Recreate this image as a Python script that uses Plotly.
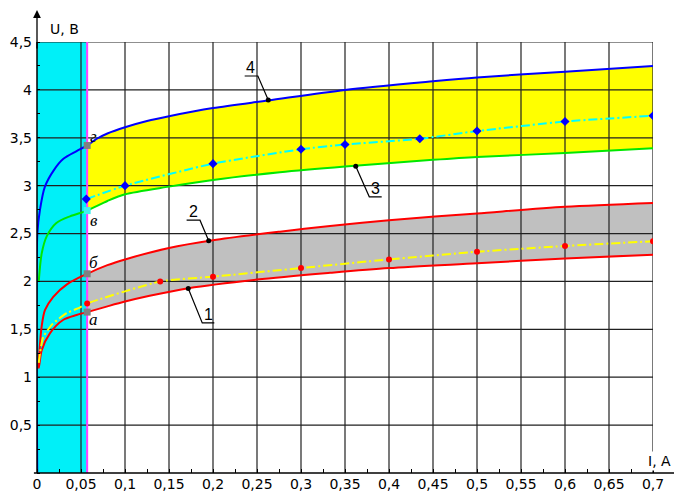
import plotly.graph_objects as go

# ---------------- data ----------------
# Curve 4 (blue, solid)
I4 = [0.0003, 0.0004, 0.0034, 0.009, 0.019, 0.030, 0.045, 0.057, 0.068, 0.08, 0.10, 0.125, 0.15, 0.20, 0.263, 0.35, 0.45, 0.50, 0.60, 0.70]
U4 = [0.00, 2.50, 2.75, 2.99, 3.16, 3.28, 3.36, 3.42, 3.49, 3.545, 3.61, 3.675, 3.725, 3.81, 3.89, 4.00, 4.09, 4.13, 4.19, 4.25]
# Curve 3 (green, solid)
I3 = [0.002, 0.0053, 0.011, 0.022, 0.0375, 0.057, 0.08, 0.10, 0.15, 0.20, 0.276, 0.35, 0.45, 0.50, 0.60, 0.70]
U3 = [2.00, 2.29, 2.47, 2.61, 2.68, 2.74, 2.84, 2.91, 2.99, 3.06, 3.14, 3.20, 3.27, 3.30, 3.34, 3.39]
# Curve 2 (red, upper)
I2 = [0.0015, 0.0026, 0.0053, 0.009, 0.0185, 0.034, 0.057, 0.08, 0.10, 0.15, 0.20, 0.276, 0.333, 0.40, 0.50, 0.60, 0.70]
U2 = [1.10, 1.25, 1.53, 1.70, 1.84, 1.97, 2.08, 2.17, 2.23, 2.35, 2.43, 2.52, 2.58, 2.64, 2.71, 2.78, 2.82]
# Curve 1 (red, lower)
I1 = [0.0015, 0.0026, 0.0053, 0.0148, 0.030, 0.045, 0.057, 0.08, 0.10, 0.128, 0.172, 0.25, 0.333, 0.40, 0.50, 0.60, 0.70]
U1 = [1.09, 1.13, 1.28, 1.46, 1.60, 1.65, 1.68, 1.74, 1.79, 1.85, 1.93, 2.02, 2.09, 2.14, 2.19, 2.24, 2.28]
# Measured points between curves 3 and 4 (blue diamonds, cyan dash-dot)
Ic = [0.056, 0.10, 0.20, 0.30, 0.35, 0.435, 0.50, 0.60, 0.70]
Uc = [2.86, 3.00, 3.23, 3.38, 3.43, 3.49, 3.57, 3.67, 3.73]
# Measured points between curves 1 and 2 (red dots, yellow dash-dot)
Iy = [0.002, 0.0034, 0.007, 0.018, 0.034, 0.049, 0.057, 0.14, 0.20, 0.30, 0.40, 0.50, 0.60, 0.70]
Uy = [1.15, 1.25, 1.42, 1.56, 1.67, 1.73, 1.77, 2.00, 2.05, 2.14, 2.23, 2.31, 2.37, 2.42]
Iy_pts = [0.057, 0.14, 0.20, 0.30, 0.40, 0.50, 0.60, 0.70]
Uy_pts = [1.77, 2.00, 2.05, 2.14, 2.23, 2.31, 2.37, 2.42]

I_LIMIT = 0.057          # boundary of the cyan zone
X_MAX, Y_MAX = 0.70, 4.5

x_tickvals = [0, 0.05, 0.1, 0.15, 0.2, 0.25, 0.3, 0.35, 0.4, 0.45, 0.5, 0.55, 0.6, 0.65, 0.7]
x_ticktext = ["0", "0,05", "0,1", "0,15", "0,2", "0,25", "0,3", "0,35", "0,4", "0,45",
              "0,5", "0,55", "0,6", "0,65", "0,7"]
y_tickvals = [0.5, 1, 1.5, 2, 2.5, 3, 3.5, 4, 4.5]
y_ticktext = ["0,5", "1", "1,5", "2", "2,5", "3", "3,5", "4", "4,5"]

FONT = "DejaVu Sans, Verdana, sans-serif"
LFONT = "Liberation Sans, Arial, sans-serif"
SERIF = "Liberation Serif, Times New Roman, serif"


def band(ia, ua, ib, ub):
    top = [(i, u) for i, u in zip(ia, ua) if i >= I_LIMIT]
    bot = [(i, u) for i, u in zip(ib, ub) if i >= I_LIMIT]
    pts = top + bot[::-1]
    return [p[0] for p in pts], [p[1] for p in pts]


def at_limit(ii, uu):
    return uu[ii.index(I_LIMIT)]


fig = go.Figure()

# filled bands
bx, by = band(I4, U4, I3, U3)
fig.add_trace(go.Scatter(x=bx, y=by, fill="toself", fillcolor="#ffff00",
                         line=dict(width=0), mode="lines", hoverinfo="skip"))
bx, by = band(I2, U2, I1, U1)
fig.add_trace(go.Scatter(x=bx, y=by, fill="toself", fillcolor="#c0c0c0",
                         line=dict(width=0), mode="lines", hoverinfo="skip"))

# grid drawn over fills
gx, gy = [], []
for xv in x_tickvals[1:]:
    gx += [xv, xv, None]
    gy += [0, Y_MAX, None]
for yv in y_tickvals:
    gx += [0, X_MAX, None]
    gy += [yv, yv, None]
fig.add_trace(go.Scatter(x=gx, y=gy, mode="lines", line=dict(color="#202020", width=1.2),
                         hoverinfo="skip"))

# magenta boundary line
fig.add_trace(go.Scatter(x=[I_LIMIT, I_LIMIT], y=[0, Y_MAX], mode="lines",
                         line=dict(color="#ff40ff", width=2), hoverinfo="skip"))

# curves
sp = dict(shape="spline", smoothing=0.8)
fig.add_trace(go.Scatter(x=I3, y=U3, mode="lines", line=dict(color="#00e800", width=2, **sp)))
fig.add_trace(go.Scatter(x=I4, y=U4, mode="lines", line=dict(color="#0000ff", width=2, **sp)))
fig.add_trace(go.Scatter(x=I2, y=U2, mode="lines", line=dict(color="#ff0000", width=2, **sp)))
fig.add_trace(go.Scatter(x=I1, y=U1, mode="lines", line=dict(color="#ff0000", width=2, **sp)))

# dash-dot measured lines
fig.add_trace(go.Scatter(x=Ic, y=Uc, mode="lines+markers",
                         line=dict(color="#00ffff", width=2, dash="9px,3px,2px,3px", shape="spline", smoothing=0.5),
                         marker=dict(symbol="diamond", size=7, color="#0000ff")))
fig.add_trace(go.Scatter(x=Iy, y=Uy, mode="lines",
                         line=dict(color="#ffff00", width=2, dash="9px,3px,2px,3px", shape="spline", smoothing=0.5)))
fig.add_trace(go.Scatter(x=Iy_pts, y=Uy_pts, mode="markers",
                         marker=dict(symbol="circle", size=6, color="#ff0000")))

# points a, б, в, г at the boundary
fig.add_trace(go.Scatter(x=[I_LIMIT] * 3, y=[at_limit(I4, U4), at_limit(I2, U2), at_limit(I1, U1)],
                         mode="markers", marker=dict(symbol="square", size=7, color="#808080")))
fig.add_trace(go.Scatter(x=[I_LIMIT], y=[at_limit(I3, U3)],
                         mode="markers", marker=dict(symbol="square", size=7, color="#40f0f0")))

# callout leaders
callouts = [
    # label, anchor, leader end, underline end, text pos
    ("4", (0.2628, 3.894), (0.251, 4.145), (0.236, 4.145), (0.243, 4.235)),
    ("3", (0.3622, 3.203), (0.3776, 2.884), (0.3917, 2.884), (0.385, 2.975)),
    ("2", (0.1951, 2.424), (0.1852, 2.640), (0.1700, 2.640), (0.178, 2.73)),
    ("1", (0.1719, 1.927), (0.1878, 1.567), (0.2015, 1.567), (0.1949, 1.66)),
]
lx, ly, dx, dy = [], [], [], []
for lab, a, l, u, t in callouts:
    lx += [a[0], l[0], u[0], None]
    ly += [a[1], l[1], u[1], None]
    dx.append(a[0])
    dy.append(a[1])
fig.add_trace(go.Scatter(x=lx, y=ly, mode="lines", line=dict(color="black", width=1.2), hoverinfo="skip"))
fig.add_trace(go.Scatter(x=dx, y=dy, mode="markers", marker=dict(color="black", size=5)))

annotations = []
for lab, a, l, u, t in callouts:
    annotations.append(dict(x=t[0], y=t[1], xref="x", yref="y", text=lab, showarrow=False,
                            font=dict(family=LFONT, size=16, color="black")))
for lab, yy in [("г", 3.517), ("в", 2.638), ("б", 2.20), ("а", 1.606)]:
    annotations.append(dict(x=0.0645, y=yy, xref="x", yref="y", text="<i>%s</i>" % lab, showarrow=False,
                            font=dict(family=SERIF, size=17, color="black")))
annotations.append(dict(x=0.018, y=1.03, xref="paper", yref="paper", xanchor="left", yanchor="middle",
                        text="U, В", showarrow=False, font=dict(family=FONT, size=14, color="black")))
annotations.append(dict(x=1.011, y=0.004, xref="paper", yref="paper", xanchor="center", yanchor="bottom",
                        text="I, А", showarrow=False, bgcolor="white",
                        font=dict(family=FONT, size=14, color="black")))
# y-axis arrow
annotations.append(dict(x=0, y=1.074, xref="x", yref="paper", text="", showarrow=True,
                        ax=0, ay=40, arrowhead=2, arrowsize=1.2, arrowwidth=1.3, arrowcolor="black"))

shapes = [
    dict(type="rect", xref="x", yref="y", x0=0, x1=I_LIMIT, y0=0, y1=Y_MAX,
         fillcolor="#00f0f8", line=dict(width=0), layer="below"),
    dict(type="line", xref="paper", yref="paper", x0=-0.005, x1=1.04, y0=0, y1=0,
         line=dict(color="black", width=1.5)),
    dict(type="line", xref="paper", yref="paper", x0=0, x1=0, y0=0, y1=1.0,
         line=dict(color="black", width=1.5)),
]

fig.update_layout(
    width=674, height=491, autosize=False,
    margin=dict(l=37, r=21, t=42, b=18, pad=0, autoexpand=False),
    paper_bgcolor="white", plot_bgcolor="white",
    showlegend=False,
    font=dict(family=FONT, size=14, color="black"),
    shapes=shapes, annotations=annotations,
    xaxis=dict(range=[0, X_MAX], tickmode="array", tickvals=x_tickvals, ticktext=x_ticktext,
               showgrid=False, zeroline=False, showline=False, ticks="", ticklabelstandoff=1,
               automargin=False,
               tickfont=dict(family=FONT, size=14, color="black"),
               minor=dict(ticks="inside", ticklen=4, tickcolor="black", dtick=0.025, tick0=0, showgrid=False)),
    yaxis=dict(range=[0, Y_MAX], tickmode="array", tickvals=y_tickvals, ticktext=y_ticktext,
               showgrid=False, zeroline=False, showline=False, ticks="", ticklabelstandoff=4,
               automargin=False,
               tickfont=dict(family=FONT, size=14, color="black"),
               minor=dict(ticks="inside", ticklen=3, tickcolor="black", dtick=0.25, tick0=0, showgrid=False)),
)

fig.write_html("out.html", config={"responsive": False, "displayModeBar": False},
               post_script="document.body.style.margin='0';document.body.style.overflow='hidden';")
